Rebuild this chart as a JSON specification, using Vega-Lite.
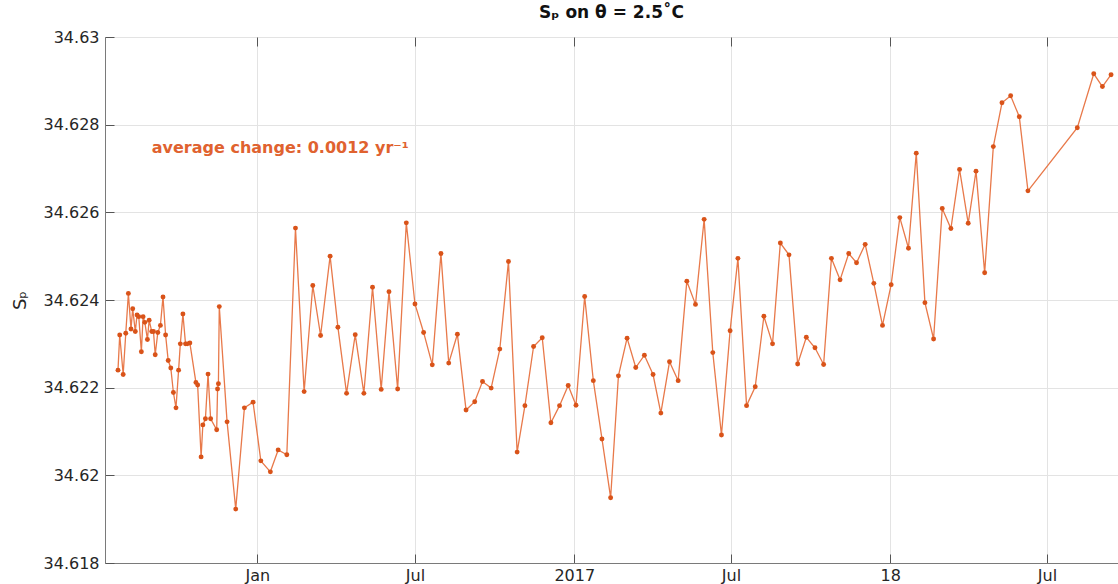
{
  "$schema": "https://vega.github.io/schema/vega-lite/v6.json",
  "autosize": "none",
  "width": 1013,
  "height": 526,
  "padding": {"left": 105, "top": 37, "right": 0, "bottom": 21},
  "background": "white",
  "config": {
    "view": {"stroke": "#8a8a8a", "strokeWidth": 1},
    "font": "DejaVu Sans",
    "axis": {
      "labelFont": "DejaVu Sans",
      "titleFont": "DejaVu Sans",
      "labelColor": "#262626",
      "titleColor": "#262626",
      "labelFontSize": 16,
      "gridColor": "#e3e3e3",
      "gridWidth": 1,
      "domainColor": "#7a7a7a",
      "tickColor": "#555555",
      "tickSize": -9
    }
  },
  "title": {
    "text": "Sₚ on θ = 2.5˚C",
    "font": "DejaVu Sans",
    "fontSize": 17,
    "fontWeight": "bold",
    "color": "#111111",
    "anchor": "middle",
    "offset": 7
  },
  "resolve": {"axis": {"x": "independent"}},
  "data": {
    "values": [
      {"date": "2015-07-24", "sp": 34.6224},
      {"date": "2015-07-26", "sp": 34.6232},
      {"date": "2015-07-30", "sp": 34.6223},
      {"date": "2015-08-02", "sp": 34.62324},
      {"date": "2015-08-05", "sp": 34.62415},
      {"date": "2015-08-08", "sp": 34.62334},
      {"date": "2015-08-10", "sp": 34.6238},
      {"date": "2015-08-13", "sp": 34.62328},
      {"date": "2015-08-15", "sp": 34.62366},
      {"date": "2015-08-17", "sp": 34.62362},
      {"date": "2015-08-20", "sp": 34.62282},
      {"date": "2015-08-22", "sp": 34.62362},
      {"date": "2015-08-24", "sp": 34.62349},
      {"date": "2015-08-27", "sp": 34.6231},
      {"date": "2015-08-29", "sp": 34.62354},
      {"date": "2015-09-01", "sp": 34.62328},
      {"date": "2015-09-03", "sp": 34.62328},
      {"date": "2015-09-05", "sp": 34.62275},
      {"date": "2015-09-08", "sp": 34.62326},
      {"date": "2015-09-11", "sp": 34.62342},
      {"date": "2015-09-14", "sp": 34.62407},
      {"date": "2015-09-17", "sp": 34.6232},
      {"date": "2015-09-20", "sp": 34.62262},
      {"date": "2015-09-23", "sp": 34.62245},
      {"date": "2015-09-26", "sp": 34.62189},
      {"date": "2015-09-29", "sp": 34.62154},
      {"date": "2015-10-02", "sp": 34.6224},
      {"date": "2015-10-04", "sp": 34.623},
      {"date": "2015-10-07", "sp": 34.62368},
      {"date": "2015-10-10", "sp": 34.623},
      {"date": "2015-10-12", "sp": 34.623},
      {"date": "2015-10-15", "sp": 34.62302},
      {"date": "2015-10-22", "sp": 34.62212},
      {"date": "2015-10-24", "sp": 34.62206},
      {"date": "2015-10-28", "sp": 34.62042},
      {"date": "2015-10-30", "sp": 34.62115},
      {"date": "2015-11-02", "sp": 34.62129},
      {"date": "2015-11-05", "sp": 34.62231},
      {"date": "2015-11-08", "sp": 34.62129},
      {"date": "2015-11-15", "sp": 34.62104},
      {"date": "2015-11-16", "sp": 34.62197},
      {"date": "2015-11-17", "sp": 34.62209},
      {"date": "2015-11-18", "sp": 34.62385},
      {"date": "2015-11-27", "sp": 34.62122},
      {"date": "2015-12-07", "sp": 34.61923},
      {"date": "2015-12-17", "sp": 34.62154},
      {"date": "2015-12-27", "sp": 34.62167},
      {"date": "2016-01-05", "sp": 34.62033},
      {"date": "2016-01-16", "sp": 34.62008},
      {"date": "2016-01-25", "sp": 34.62058},
      {"date": "2016-02-04", "sp": 34.62047},
      {"date": "2016-02-14", "sp": 34.62564},
      {"date": "2016-02-24", "sp": 34.62191},
      {"date": "2016-03-05", "sp": 34.62433},
      {"date": "2016-03-14", "sp": 34.62319},
      {"date": "2016-03-25", "sp": 34.625},
      {"date": "2016-04-03", "sp": 34.62338},
      {"date": "2016-04-13", "sp": 34.62187},
      {"date": "2016-04-23", "sp": 34.62321},
      {"date": "2016-05-03", "sp": 34.62187},
      {"date": "2016-05-13", "sp": 34.62429},
      {"date": "2016-05-23", "sp": 34.62196},
      {"date": "2016-06-01", "sp": 34.62419},
      {"date": "2016-06-11", "sp": 34.62197},
      {"date": "2016-06-21", "sp": 34.62576},
      {"date": "2016-07-01", "sp": 34.62391},
      {"date": "2016-07-11", "sp": 34.62326},
      {"date": "2016-07-21", "sp": 34.62252},
      {"date": "2016-07-31", "sp": 34.62506},
      {"date": "2016-08-09", "sp": 34.62256},
      {"date": "2016-08-19", "sp": 34.62322},
      {"date": "2016-08-29", "sp": 34.62149},
      {"date": "2016-09-08", "sp": 34.62168},
      {"date": "2016-09-17", "sp": 34.62214},
      {"date": "2016-09-27", "sp": 34.62199},
      {"date": "2016-10-07", "sp": 34.62288},
      {"date": "2016-10-17", "sp": 34.62488},
      {"date": "2016-10-27", "sp": 34.62053},
      {"date": "2016-11-05", "sp": 34.62159},
      {"date": "2016-11-15", "sp": 34.62294},
      {"date": "2016-11-25", "sp": 34.62314},
      {"date": "2016-12-05", "sp": 34.6212},
      {"date": "2016-12-15", "sp": 34.62159},
      {"date": "2016-12-25", "sp": 34.62205},
      {"date": "2017-01-03", "sp": 34.6216},
      {"date": "2017-01-13", "sp": 34.62408},
      {"date": "2017-01-23", "sp": 34.62216},
      {"date": "2017-02-02", "sp": 34.62083},
      {"date": "2017-02-12", "sp": 34.61949},
      {"date": "2017-02-21", "sp": 34.62227},
      {"date": "2017-03-03", "sp": 34.62313},
      {"date": "2017-03-13", "sp": 34.62246},
      {"date": "2017-03-23", "sp": 34.62274},
      {"date": "2017-04-02", "sp": 34.6223},
      {"date": "2017-04-11", "sp": 34.62142},
      {"date": "2017-04-21", "sp": 34.62259},
      {"date": "2017-05-01", "sp": 34.62216},
      {"date": "2017-05-11", "sp": 34.62443},
      {"date": "2017-05-21", "sp": 34.6239},
      {"date": "2017-05-31", "sp": 34.62584},
      {"date": "2017-06-10", "sp": 34.6228},
      {"date": "2017-06-20", "sp": 34.62092},
      {"date": "2017-06-30", "sp": 34.6233},
      {"date": "2017-07-09", "sp": 34.62495},
      {"date": "2017-07-19", "sp": 34.62159},
      {"date": "2017-07-29", "sp": 34.62202},
      {"date": "2017-08-08", "sp": 34.62363},
      {"date": "2017-08-18", "sp": 34.623},
      {"date": "2017-08-27", "sp": 34.6253},
      {"date": "2017-09-06", "sp": 34.62503},
      {"date": "2017-09-16", "sp": 34.62254},
      {"date": "2017-09-26", "sp": 34.62315},
      {"date": "2017-10-06", "sp": 34.62291},
      {"date": "2017-10-16", "sp": 34.62253},
      {"date": "2017-10-25", "sp": 34.62495},
      {"date": "2017-11-04", "sp": 34.62446},
      {"date": "2017-11-14", "sp": 34.62506},
      {"date": "2017-11-23", "sp": 34.62485},
      {"date": "2017-12-03", "sp": 34.62527},
      {"date": "2017-12-13", "sp": 34.62438},
      {"date": "2017-12-23", "sp": 34.62342},
      {"date": "2018-01-02", "sp": 34.62435},
      {"date": "2018-01-12", "sp": 34.62588},
      {"date": "2018-01-22", "sp": 34.62518},
      {"date": "2018-01-31", "sp": 34.62735},
      {"date": "2018-02-10", "sp": 34.62394},
      {"date": "2018-02-20", "sp": 34.62311},
      {"date": "2018-03-02", "sp": 34.62609},
      {"date": "2018-03-12", "sp": 34.62563},
      {"date": "2018-03-22", "sp": 34.62698},
      {"date": "2018-04-01", "sp": 34.62575},
      {"date": "2018-04-10", "sp": 34.62694},
      {"date": "2018-04-20", "sp": 34.62462},
      {"date": "2018-04-30", "sp": 34.6275},
      {"date": "2018-05-10", "sp": 34.6285},
      {"date": "2018-05-20", "sp": 34.62866},
      {"date": "2018-05-30", "sp": 34.62818},
      {"date": "2018-06-09", "sp": 34.62649},
      {"date": "2018-08-05", "sp": 34.62793},
      {"date": "2018-08-24", "sp": 34.62916},
      {"date": "2018-09-03", "sp": 34.62887},
      {"date": "2018-09-13", "sp": 34.62914}
    ]
  },
  "layer": [
    {
      "mark": {"type": "line", "color": "#E8794A", "strokeWidth": 1.3},
      "encoding": {
        "x": {
          "field": "date",
          "type": "temporal",
          "scale": {
            "type": "utc",
            "domain": [
              {"year": 2015, "month": 7, "date": 9, "utc": true},
              {"year": 2018, "month": 9, "date": 21, "utc": true}
            ]
          },
          "axis": {
            "title": null,
            "orient": "bottom",
            "values": [
              {"year": 2016, "month": 1, "date": 1, "utc": true},
              {"year": 2016, "month": 7, "date": 1, "utc": true},
              {"year": 2017, "month": 1, "date": 1, "utc": true},
              {"year": 2017, "month": 7, "date": 1, "utc": true},
              {"year": 2018, "month": 1, "date": 1, "utc": true},
              {"year": 2018, "month": 7, "date": 1, "utc": true}
            ],
            "labelExpr": "utcmonth(datum.value) == 0 ? (utcyear(datum.value) == 2016 ? 'Jan' : (utcyear(datum.value) == 2017 ? '2017' : '18')) : 'Jul'",
            "labelPadding": 13,
            "labelFlush": false
          }
        },
        "y": {
          "field": "sp",
          "type": "quantitative",
          "scale": {"domain": [34.618, 34.63], "nice": false, "zero": false},
          "axis": {
            "title": "Sₚ",
            "titleFontSize": 18,
            "titleFontWeight": "normal",
            "titlePadding": 14,
            "values": [34.618, 34.62, 34.622, 34.624, 34.626, 34.628, 34.63],
            "format": ".6~g",
            "labelPadding": 15
          }
        }
      }
    },
    {
      "mark": {"type": "point", "filled": true, "color": "#D95319", "size": 24, "opacity": 1},
      "encoding": {
        "x": {
          "field": "date",
          "type": "temporal",
          "axis": {
            "title": null,
            "orient": "top",
            "values": [
              {"year": 2016, "month": 1, "date": 1, "utc": true},
              {"year": 2016, "month": 7, "date": 1, "utc": true},
              {"year": 2017, "month": 1, "date": 1, "utc": true},
              {"year": 2017, "month": 7, "date": 1, "utc": true},
              {"year": 2018, "month": 1, "date": 1, "utc": true},
              {"year": 2018, "month": 7, "date": 1, "utc": true}
            ],
            "labels": false,
            "grid": false,
            "domain": false
          }
        },
        "y": {"field": "sp", "type": "quantitative"}
      }
    },
    {
      "data": {"values": [{"date": "2015-09-01", "sp": 34.62747, "label": "average change: 0.0012 yr⁻¹"}]},
      "mark": {"type": "text", "align": "left", "baseline": "middle", "font": "DejaVu Sans", "fontSize": 16, "fontWeight": "bold", "color": "#E0622F"},
      "encoding": {
        "x": {"field": "date", "type": "temporal", "axis": null},
        "y": {"field": "sp", "type": "quantitative"},
        "text": {"field": "label"}
      }
    }
  ]
}
